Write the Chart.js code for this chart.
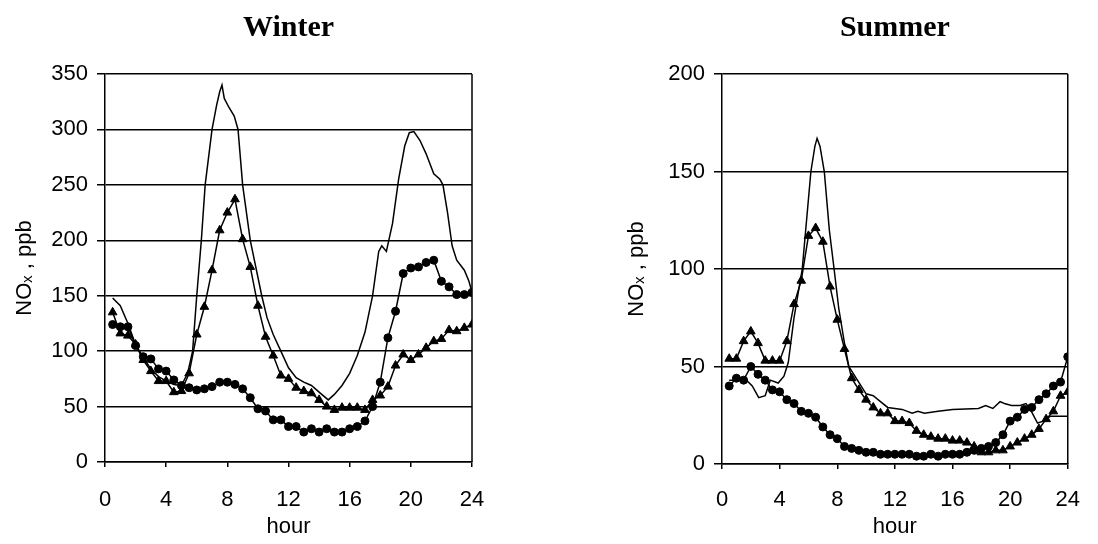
<!DOCTYPE html>
<html>
<head>
<meta charset="utf-8">
<script src="https://cdn.jsdelivr.net/npm/chart.js@4.4.1/dist/chart.umd.min.js"></script>
<style>
html,body{margin:0;padding:0;background:#fff;}
#wrap{position:relative;width:1098px;height:544px;}
canvas{position:absolute;top:0;}
#winter{left:0;}
#summer{left:549px;}
</style>
</head>
<body>
<div id="wrap">
<canvas id="winter" width="549" height="544"></canvas>
<canvas id="summer" width="549" height="544"></canvas>
</div>
<script>
// half-hourly sample times used by the two marker series
const hours = [0.5,1,1.5,2,2.5,3,3.5,4,4.5,5,5.5,6,6.5,7,7.5,8,8.5,9,9.5,10,10.5,11,11.5,12,
  12.5,13,13.5,14,14.5,15,15.5,16,16.5,17,17.5,18,18.5,19,19.5,20,20.5,21,21.5,22,22.5,23,23.5,24];
const xTicks = [0,4,8,12,16,20,24];

// ---- winter ----
const winterTriangles = [135,116,114,106,92,82,73,73,63,64,80,115,140,173,209,225,237,201,176,141,113,96,78,75,
  67,64,62,56,50,47,49,49,49,47,56,60,68,87,97,92,97,103,109,111,119,118,121,124];
const winterCircles = [124,122,122,105,95,93,84,82,74,69,67,65,66,68,72,72,70,66,58,48,46,38,38,32,
  32,27,30,27,30,27,27,30,32,37,50,72,112,136,170,175,176,180,182,163,158,151,151,153];
const winterLineHours = [0.5,1,1.5,2,2.5,3,3.5,4,4.5,5,5.4,5.73,6,6.3,6.55,7,7.3,7.5,7.65,7.8,8.1,8.45,8.7,9,9.5,
  10.25,10.6,11,11.5,12,12.5,13,13.5,14,14.6,15,15.5,16,16.5,17,17.5,17.9,18.1,18.4,18.8,19.2,19.6,19.9,20.2,
  20.6,21,21.5,21.9,22.1,22.4,22.7,23,23.5,23.8,24];
const winterLine = [148,141,125,106,94,84,77,73,70,69,80,100,150,200,250,300,322,334,340,328,320,312,300,250,200,
  150,130,115,100,85,76,72,69,63,56,61,69,80,96,117,150,190,195,190,215,255,285,297,298,
  290,278,260,255,250,225,195,182,173,163,153];
const winterYTicks = [0,50,100,150,200,250,300,350];

// ---- summer ----
const summerTriangles = [54,54,63,68,62,53,53,53,63,82,94,117,121,114,91,74,59,44,38,33,29,26,26,22,
  22,21,17,15,14,13,13,12,12,11,9,6,6,7,7,9,11,13,15,18,23,27,35,37];
const summerCircles = [40,44,43,50,46,43,38,37,33,31,27,26,24,19,15,13,9,8,7,6,6,5,5,5,
  5,5,4,4,5,4,5,5,5,6,7,8,9,11,15,22,24,28,29,33,36,40,42,55];
const summerLineHours = [0.5,1,1.7,2.1,2.55,3,3.35,3.9,4.3,4.6,5,5.57,6.17,6.45,6.6,6.8,7.1,7.45,7.78,8.1,8.5,
  8.8,9.4,10,10.5,11,11.5,12,12.5,13.2,13.6,14.05,15,16,17.8,18.3,18.8,19.3,19.6,20.1,20.7,21.1,21.4,21.9,
  22.3,22.8,24];
const summerLine = [43,43,43,40,34,35,43,41.5,45,52,75,100,150,163,167,163,150,120,100,80,62,
  50,43,36,35,32,29,28.5,28,26,27,26,27,28,28.5,30,28.5,32,31,30,30,31,28,21,
  22,24.5,24.5];
const summerYTicks = [0,50,100,150,200];

const tickFont = {family:"'Liberation Sans', Arial, sans-serif", size:22};

// right hand side of the plot frame
const frame = {
  id:"frame",
  afterDatasetsDraw(chart){
    const a = chart.chartArea, c = chart.ctx;
    c.save();
    c.strokeStyle = "#000";
    c.lineWidth = 1.5;
    c.beginPath();
    c.moveTo(a.right, a.top);
    c.lineTo(a.right, a.bottom);
    c.stroke();
    c.restore();
  }
};

function pts(xs, ys){
  return xs.map((x,i) => ({x:x, y:ys[i]}));
}

function makeChart(id, title, lineX, lineY, tri, circ, yTicks, lay){
  new Chart(document.getElementById(id), {
    type:"line",
    data:{
      datasets:[
        {data:pts(lineX, lineY), borderColor:"#000", borderWidth:1.5, pointRadius:0, tension:0},
        {data:pts(hours, tri), borderColor:"#000", borderWidth:1.5, pointStyle:"triangle",
          pointRadius:5, pointBackgroundColor:"#000", pointBorderColor:"#000", pointBorderWidth:1, tension:0},
        {data:pts(hours, circ), borderColor:"#000", borderWidth:1.5, pointStyle:"circle",
          pointRadius:4, pointBackgroundColor:"#000", pointBorderColor:"#000", pointBorderWidth:1, tension:0}
      ]
    },
    options:{
      responsive:false,
      animation:false,
      layout:{padding:{left:lay.left, right:lay.right, top:0, bottom:0}},
      plugins:{
        legend:{display:false},
        tooltip:{enabled:false},
        title:{
          display:true,
          fullSize:false,
          text:title,
          color:"#000",
          font:{family:"'Liberation Serif', 'Times New Roman', serif", size:30, weight:"bold"},
          padding:{top:10, bottom:28}
        }
      },
      scales:{
        x:{
          type:"linear",
          min:0, max:24,
          afterBuildTicks(s){ s.ticks = xTicks.map(v => ({value:v})); },
          afterFit(s){ s.height = lay.xh; },
          ticks:{color:"#000", font:tickFont, padding:lay.xpad, maxRotation:0},
          grid:{drawOnChartArea:false, drawTicks:true, tickLength:5, color:"#000", lineWidth:1.5},
          border:{display:true, color:"#000", width:1.5},
          title:{display:true, text:"hour", color:"#000", font:tickFont, padding:{top:0, bottom:4}}
        },
        y:{
          min:yTicks[0], max:yTicks[yTicks.length-1],
          afterBuildTicks(s){ s.ticks = yTicks.map(v => ({value:v})); },
          afterFit(s){ s.width = lay.yw; },
          ticks:{color:"#000", font:tickFont, padding:9},
          grid:{color:"#000", lineWidth:1.5, drawTicks:true, tickLength:8},
          border:{display:true, color:"#000", width:1.5},
          title:{display:true, text:"NOₓ , ppb", color:"#000", font:tickFont, padding:{top:12, bottom:0}}
        }
      }
    },
    plugins:[frame]
  });
}

makeChart("winter", "Winter", winterLineHours, winterLine, winterTriangles, winterCircles, winterYTicks,
  {left:0, right:77, yw:105, xh:82, xpad:20});
makeChart("summer", "Summer", summerLineHours, summerLine, summerTriangles, summerCircles, summerYTicks,
  {left:63, right:19, yw:110, xh:80, xpad:18});
</script>
</body>
</html>
